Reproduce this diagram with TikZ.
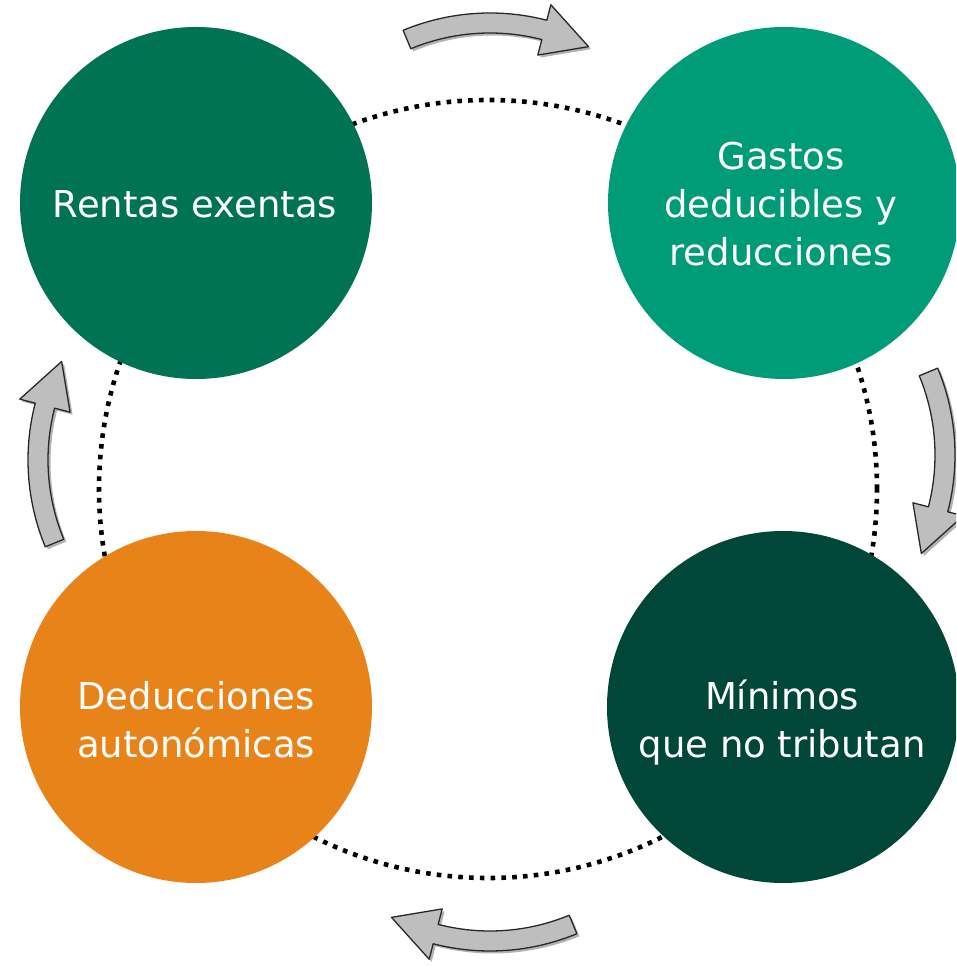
\documentclass[tikz,border=0pt]{standalone}
\usepackage{fontspec}
\setmainfont{DejaVu Sans}
\definecolor{cTL}{RGB}{0,115,85}
\definecolor{cTR}{RGB}{0,155,119}
\definecolor{cBR}{RGB}{0,71,57}
\definecolor{cBL}{RGB}{232,131,26}
\definecolor{arrowfill}{RGB}{190,190,190}
\definecolor{arrowline}{RGB}{40,40,40}
\tikzset{
  bubble/.style={circle, minimum size=352pt, inner sep=0pt, draw=none},
  lbl/.style={text=white, font=\fontsize{37pt}{48pt}\selectfont, align=center, inner sep=0pt},
  ring/.style={line width=4.6pt, dash pattern=on 4.6pt off 6.2pt, black},
  arrowshadow/.style={fill=black, opacity=0.3},
  arrowbody/.style={fill=arrowfill, draw=arrowline, line width=1.3pt, line join=round}
}
\newcommand\arrowpath[1]{({#1+22.5}:227pt) arc[start angle=#1+22.5, end angle=#1-14.5, radius=227pt] -- ({#1-14.5}:243pt) -- ({#1-27}:217pt) -- ({#1-14.5}:191pt) -- ({#1-14.5}:207pt) arc[start angle=#1-14.5, end angle=#1+22.5, radius=207pt] -- cycle}
\newcommand\cyclearrow[3]{%
  \begin{scope}[shift={(#1pt,#2pt)}]
    \fill[arrowshadow, shift={(2.5pt,-2.5pt)}] \arrowpath{#3};
    \path[arrowbody] \arrowpath{#3};
  \end{scope}}
\begin{document}
\begin{tikzpicture}
\useasboundingbox (0,0) rectangle (956pt,966pt);
\clip (0,0) rectangle (956pt,966pt);
% dotted ring
\coordinate (ringc) at (488pt,477pt);
\draw[ring] (ringc) circle[radius=389pt];
% circles
\node[bubble, fill=cTL] (rentas) at (196pt,763pt) {};
\node[bubble, fill=cTR] (gastos) at (784pt,763pt) {};
\node[bubble, fill=cBR] (minimos) at (783pt,259pt) {};
\node[bubble, fill=cBL] (deducciones) at (196pt,259pt) {};
% labels
\node[lbl] (trentas) at (195pt,761.5pt) {Rentas exentas};
\node[lbl] (tgastos) at (781pt,762pt) {Gastos\\deducibles y\\reducciones};
\node[lbl] (tminimos) at (782pt,243.5pt) {Mínimos\\que no tributan};
\node[lbl] (tdeducciones) at (196pt,246pt) {Deducciones\\autonómicas};
% curved arrows
\cyclearrow{490}{726}{90}
\cyclearrow{728}{511}{0}
\cyclearrow{490}{242}{-90}
\cyclearrow{255}{506}{180}
\end{tikzpicture}
\end{document}
